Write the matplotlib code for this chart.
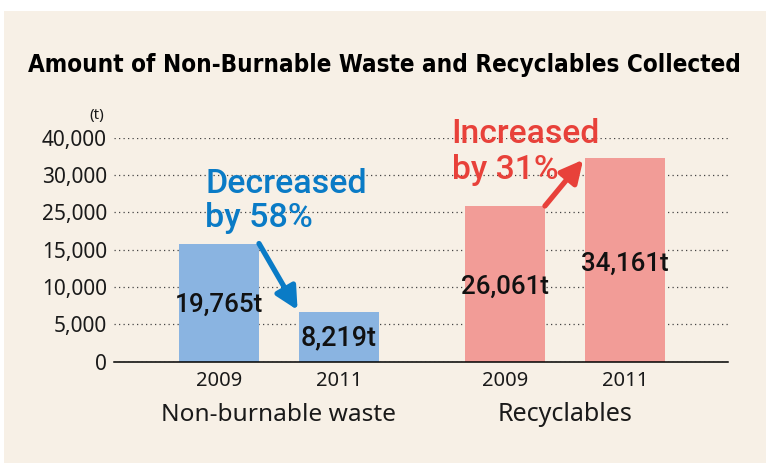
import numpy as np
import matplotlib
matplotlib.use("Agg")
import matplotlib.pyplot as plt
from matplotlib.patches import Rectangle
from matplotlib.transforms import blended_transform_factory

# ---------------- data ----------------
title = "Amount of Non-Burnable Waste and Recyclables Collected"
groups = ["Non-burnable waste", "Recyclables"]
years = ["2009", "2011"]
nonburnable = [19765, 8219]
recyclables = [26061, 34161]
value_labels = [["19,765t", "8,219t"], ["26,061t", "34,161t"]]
ytick_labels = ["0", "5,000", "10,000", "15,000", "25,000", "30,000", "40,000"]
unit_label = "(t)"
change_texts = [["Decreased", "by 58%"], ["Increased", "by 31%"]]

# ---------------- style / layout ----------------
W, H, DPI = 766, 463, 100
BG = "#F7F0E6"
BAR_COLORS = ["#8AB4E1", "#F29C97"]
ANN_COLORS = ["#0A7BC6", "#E8413A"]
TICK_STEP = 6250          # drawing step of the (non-linear) tick labels
GROUP_GAP = 2.383
BAR_W = 0.667
BODY = ["Noto Sans", "DejaVu Sans"]
MED = ["Roboto", "DejaVu Sans"]

fig = plt.figure(figsize=(W / DPI, H / DPI), dpi=DPI, facecolor="white")
fig.patches.append(Rectangle((4 / W, 0), 1, (H - 11) / H, transform=fig.transFigure,
                             facecolor=BG, edgecolor="none", zorder=-10))

ax = fig.add_axes([114 / W, 1 - 361.5 / H, (728 - 114) / W, (361.5 - 137.7) / H])
ax.set_facecolor("none")
ax.set_xlim(-0.875, 4.242)
ax.set_ylim(0, TICK_STEP * (len(ytick_labels) - 1))

renderer = fig.canvas.get_renderer()


def fit(t, target_px):
    w = t.get_window_extent(renderer).width
    t.set_fontsize(t.get_fontsize() * target_px / w)
    return t


series = [nonburnable, recyclables]
xticks, xlabels = [], []
for g, vals in enumerate(series):
    xs = g * GROUP_GAP + np.arange(len(vals))
    ax.bar(xs, vals, width=BAR_W, color=BAR_COLORS[g], zorder=2)
    for x, v, lab in zip(xs, vals, value_labels[g]):
        t = ax.text(x, v * 0.48, lab, ha="center", va="center", fontsize=17,
                    family=MED, fontweight="medium", color="#111111", zorder=4)
        fit(t, 88 if len(lab) == 7 else 76)
    xticks += list(xs)
    xlabels += years
    # group label
    trans = blended_transform_factory(ax.transData, ax.transAxes)
    gt = ax.text(xs.mean(), -0.239, groups[g], ha="center", va="center",
                 transform=trans, fontsize=17, family=BODY, color="#1a1a1a")
    fit(gt, 234 if g == 0 else 135)
    # arrow from top-right of first bar to top-left of second bar
    ax.annotate("", xy=(xs[1] - BAR_W / 2, vals[1]), xytext=(xs[0] + BAR_W / 2, vals[0]),
                arrowprops=dict(arrowstyle="-|>,head_length=0.75,head_width=0.38",
                                color=ANN_COLORS[g], lw=3.8, shrinkA=0, shrinkB=2,
                                mutation_scale=18),
                zorder=5)

ax.set_xticks(xticks)
ax.set_xticklabels(xlabels, family=BODY, fontsize=14.5, color="#1a1a1a")
ax.set_yticks(np.arange(len(ytick_labels)) * TICK_STEP)
ax.set_yticklabels(ytick_labels, family=BODY, fontsize=15, color="#1a1a1a")
ax.tick_params(axis="both", length=0)
ax.tick_params(axis="y", pad=5)
ax.tick_params(axis="x", pad=7)
for s in ["top", "right", "left"]:
    ax.spines[s].set_visible(False)
ax.spines["bottom"].set_linewidth(1.1)
ax.spines["bottom"].set_color("black")
ax.spines["bottom"].set_zorder(3)
ax.yaxis.grid(True, linestyle=(0, (1, 2.6)), color="#444444", linewidth=0.9, zorder=0)
ax.set_axisbelow(True)

# unit label
fig.text(97 / W, 1 - 115 / H, unit_label, ha="center", va="center",
         fontsize=11, family=BODY, color="#1a1a1a")

# change annotations (two lines each)
ann_pos = [(205, 193, 227, 162), (451.7, 143, 179, 148)]
for g, (x, b1, b2, wpx) in enumerate(ann_pos):
    t1 = fig.text(x / W, 1 - b1 / H, change_texts[g][0], ha="left", va="baseline",
                  fontsize=21, family=MED, fontweight="medium",
                  color=ANN_COLORS[g], zorder=6)
    fit(t1, wpx)
    fig.text(x / W, 1 - b2 / H, change_texts[g][1], ha="left", va="baseline",
             fontsize=t1.get_fontsize(), family=MED,
             fontweight="medium", color=ANN_COLORS[g], zorder=6)

# title
tt = fig.text(28 / W, 1 - 72 / H, title, ha="left", va="baseline", fontsize=20,
              family=["Liberation Sans Narrow", "DejaVu Sans"], fontstretch="condensed",
              fontweight="bold", color="black")
fit(tt, 715)

fig.savefig("out.png", dpi=DPI, facecolor="white")
